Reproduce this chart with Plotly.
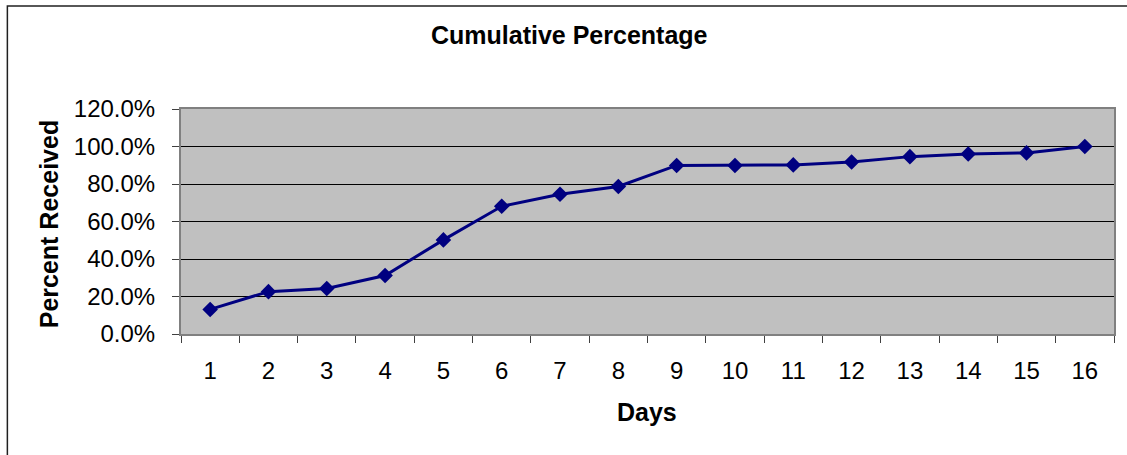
import plotly.graph_objects as go

days = [str(d) for d in range(1, 17)]
percent = [13.1, 22.6, 24.3, 31.2, 50.2, 68.1, 74.5, 78.7, 89.9, 89.9, 90.2, 91.7, 94.6, 96.0, 96.6, 100.0]
y_ticks = [0, 20, 40, 60, 80, 100, 120]
y_tick_labels = [f"{v:.1f}%" for v in y_ticks]

FONT = "Liberation Sans, Arial, sans-serif"
W, H = 1127, 455
L, R, T, B = 181, 11, 109, 121
pw, ph = W - L - R, H - T - B

def px_x(px):
    return (px - L) / pw

def px_y(py):
    return (H - B - py) / ph

fig = go.Figure()
fig.add_trace(go.Scatter(
    x=days, y=percent, mode="lines+markers",
    line=dict(color="#000080", width=3),
    marker=dict(symbol="diamond", size=12, color="#000080"),
    showlegend=False, hoverinfo="skip",
))

fig.update_layout(
    width=W, height=H,
    margin=dict(l=L, r=R, t=T, b=B),
    paper_bgcolor="white", plot_bgcolor="#C0C0C0",
    font=dict(family=FONT, size=24, color="black"),
    xaxis=dict(
        type="category", range=[-0.5, 15.5], tickson="boundaries",
        ticks="outside", ticklen=7, tickcolor="#404040", tickwidth=1,
        showgrid=False, showline=True, linecolor="#808080", linewidth=2,
        mirror=True, zeroline=False, ticklabelstandoff=14,
        tickfont=dict(size=24),
    ),
    yaxis=dict(
        range=[0, 120], tickvals=y_ticks, ticktext=y_tick_labels,
        ticks="outside", ticklen=7, tickcolor="#404040", tickwidth=1,
        showgrid=True, gridcolor="black", gridwidth=1,
        showline=True, linecolor="#808080", linewidth=2, mirror=True,
        zeroline=False, ticklabelstandoff=12,
        tickfont=dict(size=24),
    ),
    annotations=[
        dict(text="<b>Cumulative Percentage</b>", x=px_x(570), y=px_y(35),
             xref="paper", yref="paper", showarrow=False,
             xanchor="center", yanchor="middle", font=dict(size=25)),
        dict(text="<b>Days</b>", x=px_x(648), y=px_y(412),
             xref="paper", yref="paper", showarrow=False,
             xanchor="center", yanchor="middle", font=dict(size=25)),
        dict(text="<b>Percent Received</b>", x=px_x(49), y=px_y(224),
             xref="paper", yref="paper", showarrow=False, textangle=-90,
             xanchor="center", yanchor="middle", font=dict(size=25)),
    ],
    shapes=[
        dict(type="rect", xref="paper", yref="paper",
             x0=px_x(7), x1=px_x(1140), y0=px_y(6), y1=px_y(470),
             line=dict(color="#202020", width=1.5), fillcolor="rgba(0,0,0,0)",
             layer="below"),
    ],
)

fig.write_html(
    "out.html",
    config={"displayModeBar": False, "staticPlot": True},
    post_script="document.body.style.margin='0px';document.body.style.padding='0px';",
)
